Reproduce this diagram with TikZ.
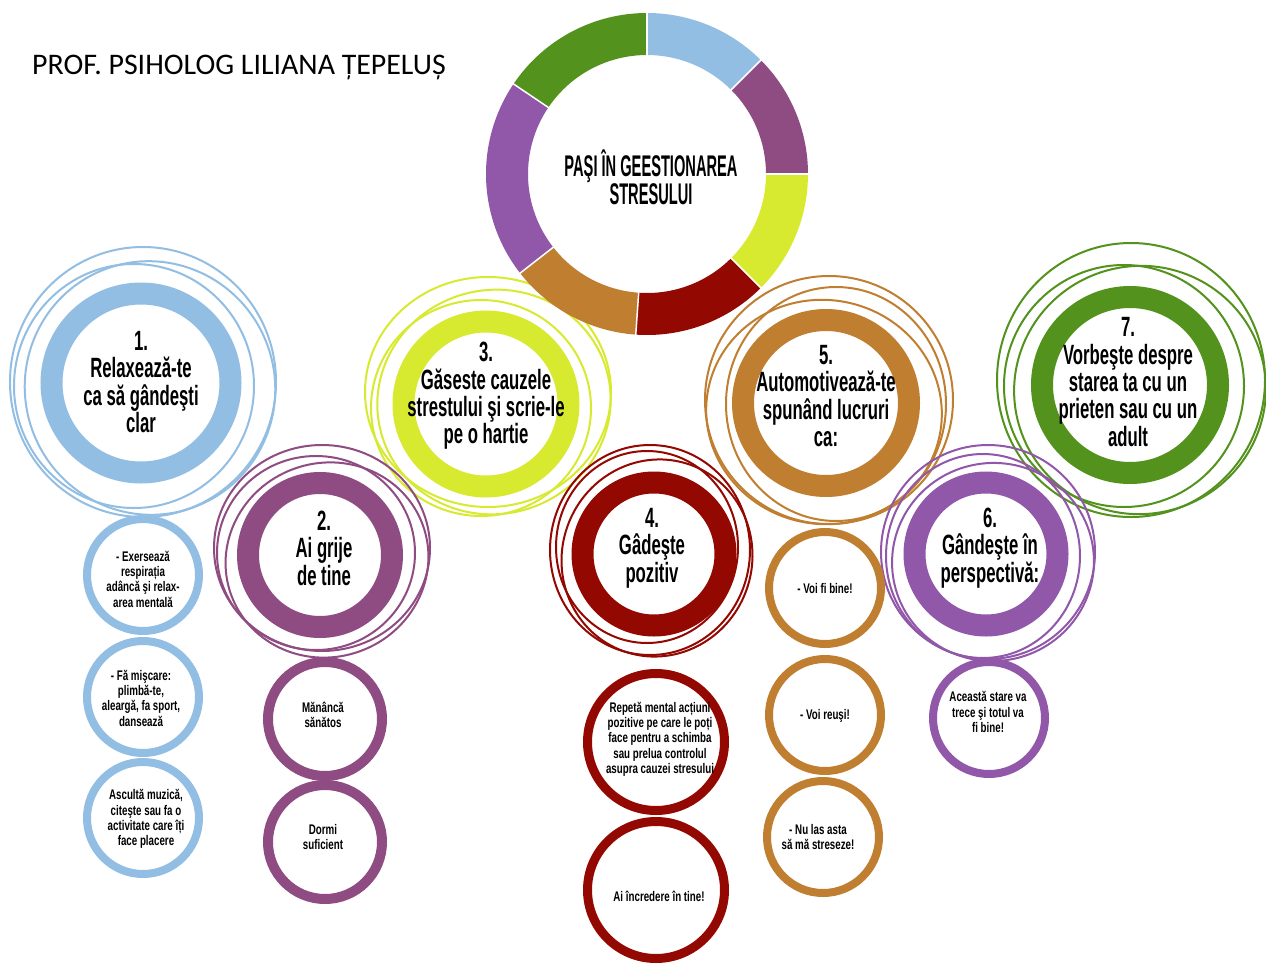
\documentclass[tikz,border=0pt]{standalone}
\usepackage{fontspec}
\setmainfont{Carlito}
\newfontfamily\lblfont[FakeStretch=0.60]{Liberation Sans}
\newfontfamily\smallfont[FakeStretch=0.70]{Liberation Sans}
\newfontfamily\headfont[FakeStretch=0.49]{Liberation Sans}
\usetikzlibrary{calc}

\definecolor{cBlue}{HTML}{93BEE3}
\definecolor{cMauve}{HTML}{8F4C82}
\definecolor{cLime}{HTML}{D8EA30}
\definecolor{cRed}{HTML}{930800}
\definecolor{cBrown}{HTML}{C07F30}
\definecolor{cViolet}{HTML}{9157A9}
\definecolor{cGreen}{HTML}{53921C}

% one coloured sector of the donut, angles in the picture's (flipped) frame
\newcommand\donutseg[3]{%
  \fill[#3] ($(dc)+(#1:161)$) arc[start angle=#1, end angle=#2, radius=161]
    -- ($(dc)+(#2:119)$) arc[start angle=#2, end angle=#1, radius=119] -- cycle;}

\tikzset{
  ringline/.style={draw=#1, line width=2bp},
  bigring/.style={circle, draw=#1, line width=22bp, inner sep=0pt, outer sep=0pt},
  smallring/.style={circle, draw=#1, line width=8bp, inner sep=0pt, outer sep=0pt, minimum size=112bp},
  lbl/.style={align=center, inner sep=0pt, font=\lblfont\bfseries\fontsize{28}{27.5}\selectfont},
  sml/.style={align=center, inner sep=0pt, font=\smallfont\bfseries\fontsize{14}{15.4}\selectfont},
}

\begin{document}
\begin{tikzpicture}[x=1bp, y=-1bp]
\useasboundingbox (0,0) rectangle (1266,970);
\fill[white] (0,0) rectangle (1266,970);

% author line
\node[anchor=west, inner sep=0pt, font=\fontsize{30}{32}\selectfont] (author) at (32,67) {PROF. PSIHOLOG LILIANA ȚEPELUȘ};

% loose outline rings around the step circles
\draw[ringline=cBlue] (143,382) ellipse [x radius=133, y radius=135];
\draw[ringline=cBlue, rotate around={20:(150,388)}] (150,388) ellipse [x radius=125, y radius=127];
\draw[ringline=cBlue] (134,386) ellipse [x radius=120, y radius=122];

\draw[ringline=cLime] (488,392) ellipse [x radius=123, y radius=115];
\draw[ringline=cLime, rotate around={15:(494,402)}] (494,402) ellipse [x radius=117, y radius=112];
\draw[ringline=cLime] (481,408) ellipse [x radius=110, y radius=108];

\draw[ringline=cBrown] (829,400) ellipse [x radius=124, y radius=124];
\draw[ringline=cBrown, rotate around={-10:(824,412)}] (824,412) ellipse [x radius=118, y radius=112];
\draw[ringline=cBrown] (836,404) ellipse [x radius=110, y radius=117];

\draw[ringline=cGreen] (1131,380) ellipse [x radius=134, y radius=137];
\draw[ringline=cGreen, rotate around={15:(1140,390)}] (1140,390) ellipse [x radius=126, y radius=124];
\draw[ringline=cGreen] (1124,386) ellipse [x radius=120, y radius=121];

\draw[ringline=cMauve] (322,548) ellipse [x radius=108, y radius=103];
\draw[ringline=cMauve, rotate around={20:(327,560)}] (327,560) ellipse [x radius=102, y radius=97];
\draw[ringline=cMauve] (316,553) ellipse [x radius=99, y radius=97];

\draw[ringline=cRed] (650,550) ellipse [x radius=100, y radius=105];
\draw[ringline=cRed, rotate around={-20:(657,558)}] (657,558) ellipse [x radius=95, y radius=99];
\draw[ringline=cRed] (647,547) ellipse [x radius=91, y radius=96];

\draw[ringline=cViolet] (988,552) ellipse [x radius=107, y radius=107];
\draw[ringline=cViolet, rotate around={10:(993,562)}] (993,562) ellipse [x radius=101, y radius=99];
\draw[ringline=cViolet] (983,556) ellipse [x radius=97, y radius=102];

% thick step rings
\node[bigring=cBlue,   minimum size=179bp] (s1) at (141,383) {};
\node[bigring=cLime,   minimum size=165bp] (s3) at (486,404) {};
\node[bigring=cBrown,  minimum size=166bp] (s5) at (826,403) {};
\node[bigring=cGreen,  minimum size=176bp] (s7) at (1130,385) {};
\node[bigring=cMauve,  minimum size=144bp] (s2) at (320,555) {};
\node[bigring=cRed,    minimum size=143bp] (s4) at (654,554) {};
\node[bigring=cViolet, minimum size=143bp] (s6) at (986,554) {};

% detail circles
\node[smallring=cBlue] (a1) at (143,575) {};
\node[smallring=cBlue] (a2) at (143,697) {};
\node[smallring=cBlue] (a3) at (143,818) {};
\node[smallring=cMauve, line width=10bp, minimum size=114bp] (m1) at (325,719) {};
\node[smallring=cMauve, line width=10bp, minimum size=114bp] (m2) at (325,842) {};
\node[smallring=cRed, line width=9bp, minimum size=137bp] (r1) at (656,742) {};
\node[smallring=cRed, line width=9bp, minimum size=137bp] (r2) at (656,890) {};
\node[smallring=cBrown] (b1) at (825,588) {};
\node[smallring=cBrown] (b2) at (825,715) {};
\node[smallring=cBrown] (b3) at (823,837) {};
\node[smallring=cViolet] (v1) at (989,718) {};

% central donut
\coordinate (dc) at (647,174);
\donutseg{-45}{-90}{cBlue}
\donutseg{0}{-45}{cMauve}
\donutseg{45}{0}{cLime}
\donutseg{94}{45}{cRed}
\donutseg{142}{94}{cBrown}
\donutseg{-146}{-218}{cViolet}
\donutseg{-90}{-146}{cGreen}
\foreach \a in {-90,-45,0,45,94,142,-146}
  \draw[white, line width=1.5bp] ($(dc)+(\a:117)$) -- ($(dc)+(\a:163)$);

\node[align=center, inner sep=0pt, font=\headfont\bfseries\fontsize{30}{27}\selectfont] (title) at (651,177) {PAŞI ÎN GEESTIONAREA\\STRESULUI};

% step labels
\node[lbl] (t1) at (141,382) {1.\\Relaxează-te\\ca să gândeşti\\clar};
\node[lbl] (t3) at (486,396) {3.\\Găseste cauzele\\strestului şi scrie-le\\pe o hartie};
\node[lbl] (t5) at (826,396) {5.\\Automotivează-te\\spunând lucruri\\ca:};
\node[lbl] (t7) at (1128,382) {7.\\Vorbeşte despre\\starea ta cu un\\prieten sau cu un\\adult};
\node[lbl] (t2) at (324,548) {2.\\Ai grije\\de tine};
\node[lbl] (t4) at (652,548) {4.\\Gâdeşte\\pozitiv};
\node[lbl] (t6) at (990,548) {6.\\Gândeşte în\\perspectivă:};

% detail labels
\node[sml] (ta1) at (143,579) {- Exersează\\respirația\\adâncă şi relax-\\area mentală};
\node[sml] (ta2) at (141,698) {- Fă mişcare:\\plimbă-te,\\aleargă, fa sport,\\dansează};
\node[sml] (ta3) at (146,819) {Ascultă muzică,\\citeşte sau fa o\\activitate care îți\\face placere};
\node[sml] (tm1) at (323,715) {Mănâncă\\sănătos};
\node[sml] (tm2) at (323,837) {Dormi\\suficient};
\node[sml] (tr1) at (660,739) {Repetă mental acțiuni\\pozitive pe care le poți\\face pentru a schimba\\sau prelua controlul\\asupra cauzei stresului};
\node[sml] (tr2) at (659,896) {Ai încredere în tine!};
\node[sml] (tb1) at (825,589) {- Voi fi bine!};
\node[sml] (tb2) at (825,716) {- Voi reuşi!};
\node[sml] (tb3) at (818,837) {- Nu las asta\\să mă streseze!};
\node[sml] (tv1) at (988,712) {Această stare va\\trece şi totul va\\fi bine!};
\end{tikzpicture}
\end{document}
